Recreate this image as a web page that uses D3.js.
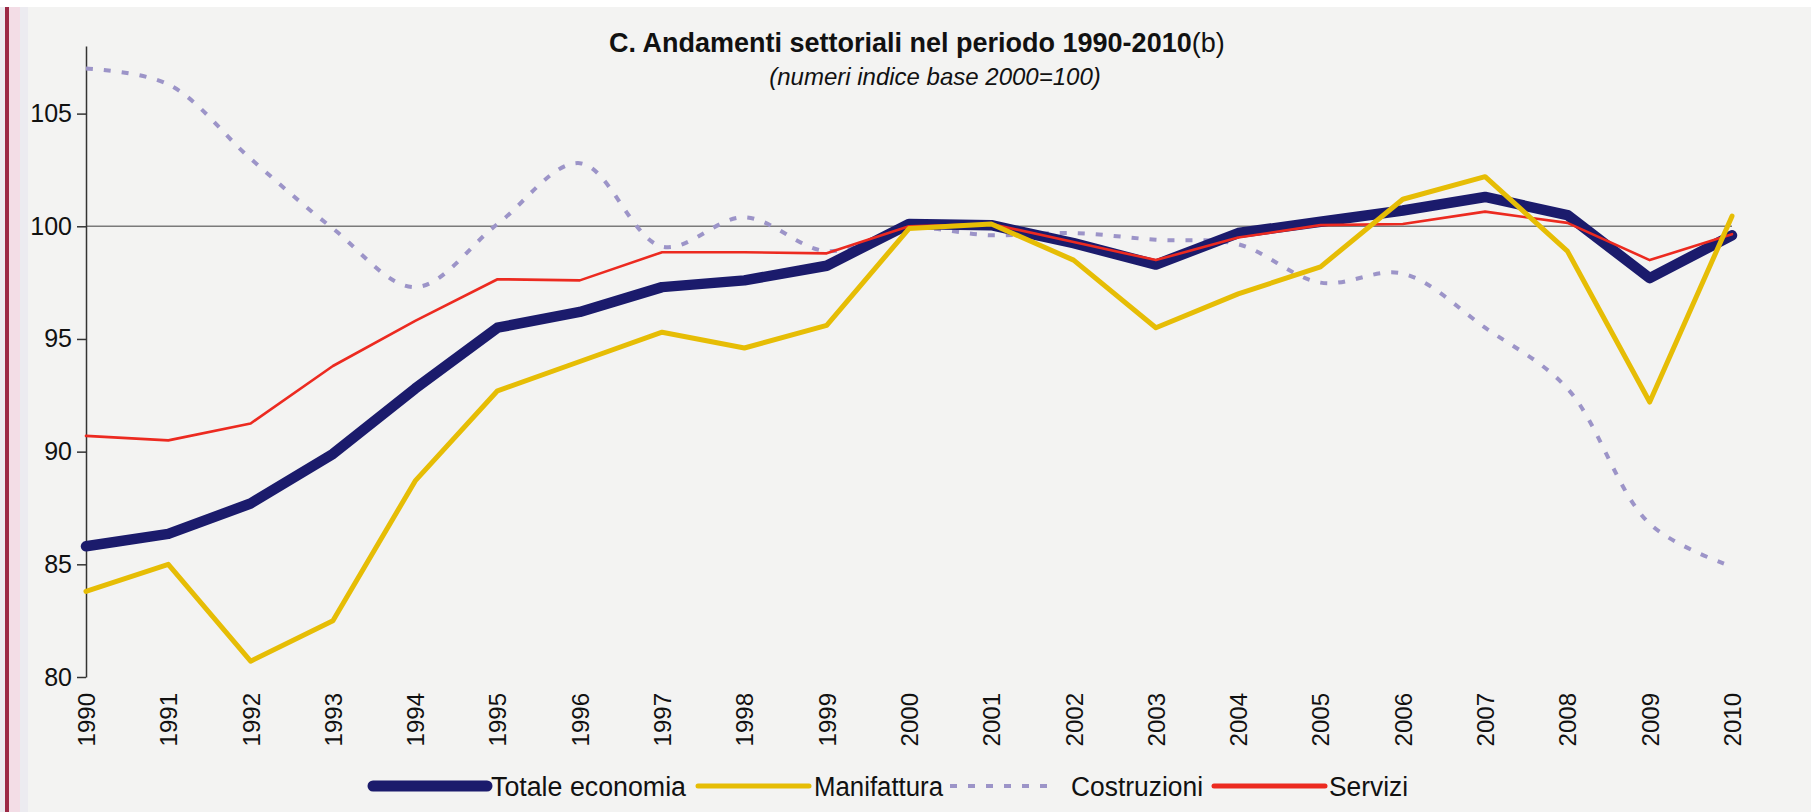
<!DOCTYPE html>
<html>
<head>
<meta charset="utf-8">
<script src="https://cdn.jsdelivr.net/npm/d3@7"></script>
<style>
  body { margin: 0; background: #f3f3f2; }
  svg { display: block; font-family: Arial, "Liberation Sans", sans-serif; }
  .axis text { fill: #111; }
  .y-axis text { font-size: 25px; }
  .x-axis text { font-size: 24px; }
  .axis path, .axis line { stroke: #333; stroke-width: 1.5; }
</style>
</head>
<body>
<svg id="chart"></svg>
<script>
// data (index numbers, 2000 = 100)
const years = d3.range(1990, 2011);
const totale = [85.8, 86.35, 87.7, 89.9, 92.8, 95.5, 96.2, 97.3, 97.6, 98.25, 100.1, 100.05, 99.25, 98.3, 99.7, 100.2, 100.7, 101.3, 100.5, 97.7, 99.6];
const manifattura = [83.8, 85.0, 80.7, 82.5, 88.7, 92.7, 94.0, 95.3, 94.6, 95.6, 99.9, 100.1, 98.5, 95.5, 97.0, 98.2, 101.2, 102.2, 98.9, 92.2, 100.45];
const costruzioni = [107.0, 106.3, 103.0, 99.9, 97.3, 100.1, 102.8, 99.1, 100.4, 98.9, 99.9, 99.6, 99.7, 99.4, 99.2, 97.5, 97.9, 95.5, 92.8, 86.8, 84.9];
const servizi = [90.7, 90.5, 91.25, 93.8, 95.8, 97.65, 97.6, 98.85, 98.85, 98.8, 100.0, 100.1, 99.3, 98.5, 99.5, 100.05, 100.1, 100.65, 100.15, 98.5, 99.65];
const yTicks = [80, 85, 90, 95, 100, 105];
const seriesNames = ['Totale economia', 'Manifattura', 'Costruzioni', 'Servizi'];

const config = {
  width: 1811,
  height: 812,
  margin: { top: 46, right: 79, bottom: 135, left: 86 },
};

const colors = {
  'Totale economia': '#1b1b6c',
  'Manifattura': '#e6bd05',
  'Costruzioni': '#9c94c8',
  'Servizi': '#ec2a20',
};
const widths = { 'Totale economia': 10.5, 'Manifattura': 5, 'Costruzioni': 4, 'Servizi': 2.6 };
const dashes = { 'Costruzioni': '7,11' };

const svg = d3.select('#chart')
  .attr('width', config.width)
  .attr('height', config.height);

// paper background + scanned left edge
svg.append('rect').attr('width', config.width).attr('height', config.height).attr('fill', '#f3f3f2');
svg.append('rect').attr('width', config.width).attr('height', 7).attr('fill', '#ffffff');
svg.append('rect').attr('x', 0).attr('y', 7).attr('width', 28).attr('height', config.height).attr('fill', '#ecebf0');
svg.append('rect').attr('x', 9).attr('y', 7).attr('width', 11).attr('height', config.height).attr('fill', '#f3dde6');
svg.append('rect').attr('x', 5).attr('y', 7).attr('width', 4).attr('height', config.height).attr('fill', '#9c2a46');

const innerW = config.width - config.margin.left - config.margin.right;
const innerH = config.height - config.margin.top - config.margin.bottom;

const xScale = d3.scaleLinear().domain([1990, 2010]).range([config.margin.left, config.margin.left + innerW]);
const yScale = d3.scaleLinear().domain([80, 108]).range([config.margin.top + innerH, config.margin.top]);

// reference line at 100
svg.append('line')
  .attr('x1', xScale(1990)).attr('x2', xScale(2010))
  .attr('y1', yScale(100)).attr('y2', yScale(100))
  .attr('stroke', '#7a7a7a').attr('stroke-width', 1.5);

// y axis
const yAxis = d3.axisLeft(yScale).tickValues(yTicks).tickSize(9).tickSizeOuter(0).tickPadding(5);
svg.append('g')
  .attr('class', 'axis y-axis')
  .attr('transform', `translate(${config.margin.left},0)`)
  .call(yAxis);

// x axis: only rotated year labels
const xAxis = d3.axisBottom(xScale).tickValues(years).tickFormat(d3.format('d')).tickSize(0);
const xAxisG = svg.append('g')
  .attr('class', 'axis x-axis')
  .attr('transform', `translate(0,${yScale(80)})`)
  .call(xAxis);
xAxisG.select('.domain').remove();
xAxisG.selectAll('text')
  .attr('transform', 'rotate(-90)')
  .attr('x', -16)
  .attr('y', 0)
  .attr('dy', '0.35em')
  .attr('text-anchor', 'end');

// lines
const table = {
  'Totale economia': totale,
  'Manifattura': manifattura,
  'Costruzioni': costruzioni,
  'Servizi': servizi,
};
const drawOrder = ['Costruzioni', 'Totale economia', 'Servizi', 'Manifattura'];

drawOrder.forEach((name) => {
  const line = d3.line()
    .x((d, i) => xScale(years[i]))
    .y((d) => yScale(d))
    .curve(name === 'Costruzioni' ? d3.curveCatmullRom.alpha(0.5) : d3.curveLinear);
  svg.append('path')
    .datum(table[name])
    .attr('fill', 'none')
    .attr('stroke', colors[name])
    .attr('stroke-width', widths[name])
    .attr('stroke-linejoin', 'round')
    .attr('stroke-linecap', name === 'Costruzioni' ? 'butt' : 'round')
    .attr('stroke-dasharray', dashes[name] || null)
    .attr('d', line);
});

// title
svg.append('text')
  .attr('x', 609).attr('y', 52)
  .style('font-size', '27px').style('font-weight', 'bold').style('fill', '#111')
  .text('C. Andamenti settoriali nel periodo 1990-2010')
  .append('tspan')
  .style('font-weight', 'normal')
  .text('(b)');

svg.append('text')
  .attr('x', 935).attr('y', 85)
  .attr('text-anchor', 'middle')
  .style('font-size', '24px').style('font-style', 'italic').style('fill', '#111')
  .text('(numeri indice base 2000=100)');

// legend (swatch start, swatch length, text offset, text length)
const legendX = [373, 698, 950, 1214];
const swatchLen = [114, 111, 104, 111];
const textX = [118, 116, 121, 115];
const textLen = [195, 129, 132, 79];
const legend = svg.append('g').attr('transform', `translate(0,786)`);
const items = legend.selectAll('g')
  .data(seriesNames)
  .join('g')
  .attr('transform', (d, i) => `translate(${legendX[i]},0)`);
items.append('line')
  .attr('x1', 0).attr('x2', (d, i) => swatchLen[i])
  .attr('y1', 0).attr('y2', 0)
  .attr('stroke', (d) => colors[d])
  .attr('stroke-width', (d) => d === 'Totale economia' ? 11 : (d === 'Costruzioni' ? 4 : 5))
  .attr('stroke-linecap', (d) => d === 'Costruzioni' ? 'butt' : 'round')
  .attr('stroke-dasharray', (d) => dashes[d] || null);
items.append('text')
  .attr('x', (d, i) => textX[i])
  .attr('y', 0)
  .attr('dy', '0.36em')
  .attr('textLength', (d, i) => textLen[i])
  .attr('lengthAdjust', 'spacingAndGlyphs')
  .style('font-size', '27px')
  .style('fill', '#111')
  .text((d) => d);
</script>
</body>
</html>
